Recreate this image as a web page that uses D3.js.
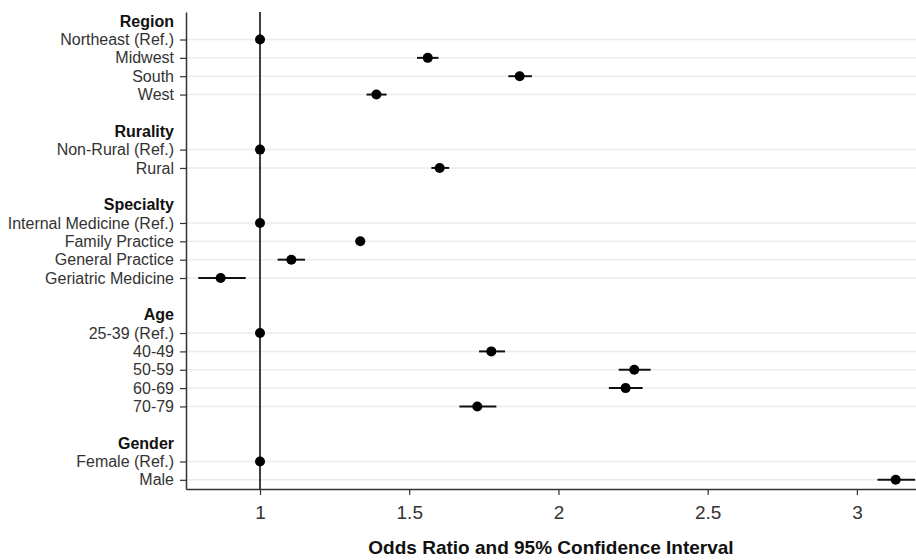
<!DOCTYPE html>
<html>
<head>
    <script src="https://cdn.jsdelivr.net/npm/d3@7"></script>
    <style>
        body { margin: 0; background: #fff; }
        text { font-family: "Liberation Sans", Arial, sans-serif; }
    </style>
</head>

<body>
<div id="chart"></div>

<script>

    var groups = ["Region", "Rurality", "Specialty", "Age", "Gender"];

    var terms = [
        ["Northeast (Ref.)", "Midwest", "South", "West"],
        ["Non-Rural (Ref.)", "Rural"],
        ["Internal Medicine (Ref.)", "Family Practice", "General Practice", "Geriatric Medicine"],
        ["25-39 (Ref.)", "40-49", "50-59", "60-69", "70-79"],
        ["Female (Ref.)", "Male"]
    ];

    var oddsRatio = [
        [1, 1.562, 1.870, 1.390],
        [1, 1.602],
        [1, 1.336, 1.105, 0.868],
        [1, 1.775, 2.254, 2.225, 1.728],
        [1, 3.130]
    ];

    var ciLow = [
        [1, 1.526, 1.832, 1.357],
        [1, 1.574],
        [1, 1.320, 1.059, 0.793],
        [1, 1.734, 2.202, 2.169, 1.668],
        [1, 3.069]
    ];

    var ciHigh = [
        [1, 1.598, 1.911, 1.424],
        [1, 1.634],
        [1, 1.352, 1.151, 0.952],
        [1, 1.821, 2.309, 2.282, 1.792],
        [1, 3.195]
    ];

    var xTicks = [1, 1.5, 2, 2.5, 3];

    // build the list of rows: header, terms, blank spacer
    var rows = [];
    groups.forEach(function(g, i) {
        rows.push({ id: 'h' + i, label: g, header: true });
        terms[i].forEach(function(t, j) {
            rows.push({ id: i + '_' + j, label: t, or: oddsRatio[i][j], lo: ciLow[i][j], hi: ciHigh[i][j] });
        });
        if (i < groups.length - 1) rows.push({ id: 'b' + i, label: '', blank: true });
    });
    var points = rows.filter(function(d) { return !d.header && !d.blank; });
    var labelOf = {};
    rows.forEach(function(d) { labelOf[d.id] = d; });

    var width = 916, height = 560;
    var margin = { top: 12, right: 0, bottom: 71, left: 186 };
    var innerW = width - margin.left - margin.right;
    var innerH = height - margin.top - margin.bottom;

    var xScale = d3.scaleLinear()
        .domain([0.752, 3.198])
        .range([0, innerW]);

    var yScale = d3.scalePoint()
        .domain(rows.map(function(d) { return d.id; }))
        .range([0, innerH])
        .padding(0.5);

    var svg = d3.select('#chart').append('svg')
        .attr('width', width)
        .attr('height', height);

    var g = svg.append('g')
        .attr('transform', 'translate(' + margin.left + ',' + margin.top + ')');

    // light grid lines at each term row
    g.selectAll('line.grid')
        .data(points)
        .enter()
        .append('line')
        .attr('class', 'grid')
        .attr('x1', 0)
        .attr('x2', innerW)
        .attr('y1', function(d) { return yScale(d.id); })
        .attr('y2', function(d) { return yScale(d.id); })
        .attr('stroke', '#ebebeb')
        .attr('stroke-width', 1.5);

    // reference line at OR = 1
    g.append('line')
        .attr('x1', xScale(1))
        .attr('x2', xScale(1))
        .attr('y1', 0)
        .attr('y2', innerH)
        .attr('stroke', '#111')
        .attr('stroke-width', 1.6);

    // x axis
    var xAxis = g.append('g')
        .attr('transform', 'translate(0,' + innerH + ')')
        .call(d3.axisBottom(xScale)
            .tickValues(xTicks)
            .tickFormat(d3.format(''))
            .tickSize(6)
            .tickSizeOuter(0)
            .tickPadding(11));
    xAxis.select('.domain').attr('stroke', '#333').attr('stroke-width', 1.5);
    xAxis.selectAll('.tick line').attr('stroke', '#333').attr('stroke-width', 1.2);
    xAxis.selectAll('.tick text')
        .attr('font-size', 19)
        .attr('fill', '#333');

    // y axis
    var yAxis = g.append('g')
        .call(d3.axisLeft(yScale)
            .tickFormat(function(id) { return labelOf[id].label; })
            .tickSize(6)
            .tickSizeOuter(0)
            .tickPadding(6));
    yAxis.select('.domain').attr('stroke', '#333').attr('stroke-width', 1.5);
    yAxis.selectAll('.tick line')
        .attr('stroke', '#333')
        .attr('stroke-width', 1.2)
        .attr('display', function(id) { return labelOf[id].header || labelOf[id].blank ? 'none' : null; });
    yAxis.selectAll('.tick text')
        .attr('font-size', 16)
        .attr('fill', function(id) { return labelOf[id].header ? '#111' : '#333'; })
        .attr('font-weight', function(id) { return labelOf[id].header ? 'bold' : 'normal'; });
    yAxis.selectAll('.tick')
        .filter(function(id) { return labelOf[id].blank; })
        .remove();

    // confidence intervals
    g.selectAll('line.ci')
        .data(points)
        .enter()
        .append('line')
        .attr('class', 'ci')
        .attr('x1', function(d) { return xScale(d.lo); })
        .attr('x2', function(d) { return xScale(d.hi); })
        .attr('y1', function(d) { return yScale(d.id); })
        .attr('y2', function(d) { return yScale(d.id); })
        .attr('stroke', '#111')
        .attr('stroke-width', 2);

    g.selectAll('circle.point')
        .data(points)
        .enter()
        .append('circle')
        .attr('class', 'point')
        .attr('fill', '#000')
        .attr('r', 5)
        .attr('cx', function(d) { return xScale(d.or); })
        .attr('cy', function(d) { return yScale(d.id); });

    // axis title
    svg.append('text')
        .attr('x', margin.left + innerW / 2)
        .attr('y', 554)
        .attr('text-anchor', 'middle')
        .attr('font-size', 19)
        .attr('font-weight', 'bold')
        .attr('fill', '#111')
        .text('Odds Ratio and 95% Confidence Interval');

</script>
</body>
</html>
